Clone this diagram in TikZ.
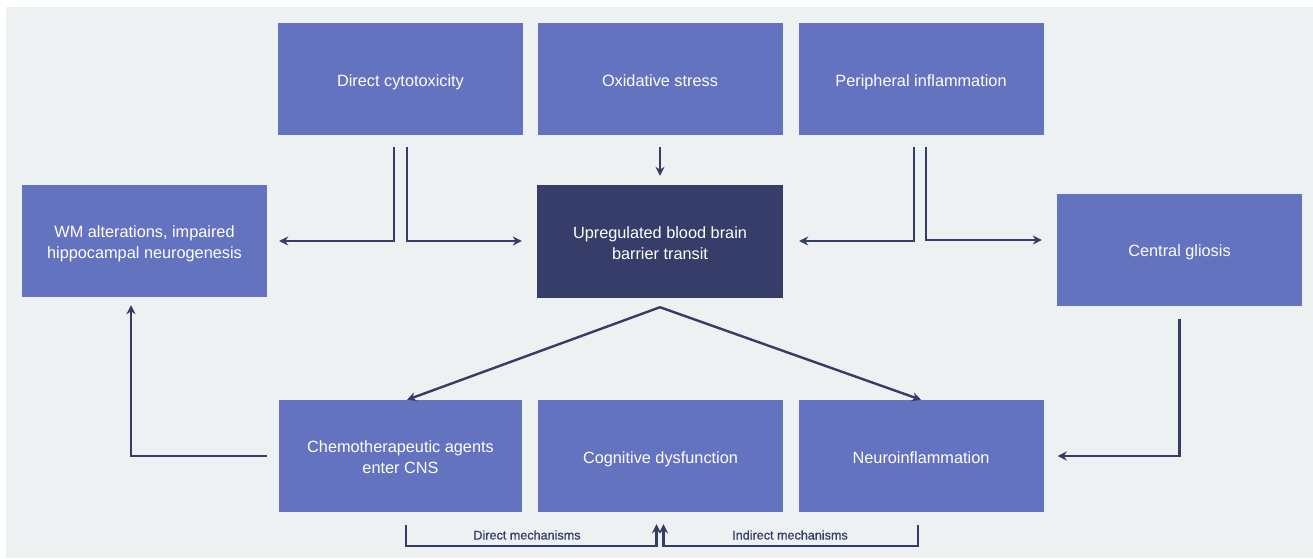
\documentclass[tikz,border=0pt]{standalone}
\usepackage{fontspec}
\setmainfont{Liberation Sans}
\newfontfamily\labfont{Liberation Sans}[FakeBold=0.8]
\usetikzlibrary{arrows.meta,calc}
\definecolor{boxblue}{HTML}{6473C0}
\definecolor{boxdark}{HTML}{363D69}
\definecolor{linec}{HTML}{353C66}
\definecolor{bgc}{HTML}{EEF1F1}
\newcommand\dn[1]{\raisebox{-3pt}[\height][\depth]{\begin{tabular}{@{}c@{}}#1\end{tabular}}}
\tikzset{
  boxn/.style={draw=none,fill=boxblue,text=white,minimum width=245pt,minimum height=112pt,
    inner sep=0pt,align=center,font=\fontsize{16.3}{21}\selectfont},
  darkn/.style={boxn,fill=boxdark},
  conn/.style={draw=linec,line width=2.4pt},
  arr/.style={conn,-{Stealth[length=9pt,width=9pt]}},
  lab/.style={text=linec,font=\labfont\fontsize{12.6}{15}\selectfont,inner sep=0pt}
}
\begin{document}
\begin{tikzpicture}[x=1pt,y=-1pt]
\useasboundingbox (0,0) rectangle (1313,558);
\fill[bgc] (6,7) rectangle (1313,558);
\node[boxn] (dc) at (400.5,79) {\dn{Direct cytotoxicity}};
\node[boxn] (os) at (660,79) {\dn{Oxidative stress}};
\node[boxn] (pi) at (921,79) {\dn{Peripheral inflammation}};
\node[boxn] (wm) at (144.5,241) {\dn{WM alterations, impaired\\hippocampal neurogenesis}};
\node[darkn,minimum width=246pt,minimum height=113pt] (bbb) at (660,241.5) {\dn{Upregulated blood brain\\barrier transit}};
\node[boxn] (cg) at (1179.5,249.5) {\dn{Central gliosis}};
\node[boxn,minimum width=243pt] (ch) at (400.5,456) {\dn{Chemotherapeutic agents\\enter CNS}};
\node[boxn] (cd) at (660.5,456) {\dn{Cognitive dysfunction}};
\node[boxn] (ni) at (921,456) {\dn{Neuroinflammation}};
% top connectors
\draw[arr] ([xshift=-6.5pt,yshift=-12pt]dc.south) |- ([xshift=12pt]wm.east);
\draw[arr] ([xshift=6.5pt,yshift=-12pt]dc.south) |- ([xshift=-15pt,yshift=0.5pt]bbb.west);
\draw[arr] ([yshift=-12pt]os.south) -- ([yshift=9pt]bbb.north);
\draw[arr] ([xshift=-7pt,yshift=-12pt]pi.south) |- ([xshift=16pt,yshift=0.5pt]bbb.east);
\draw[arr] ([xshift=5pt,yshift=-12pt]pi.south) |- ([xshift=-15pt,yshift=9.5pt]cg.west);
% from BBB
\draw[arr] ([yshift=-9pt]bbb.south) -- ([xshift=6.5pt]ch.north);
\draw[arr] ([yshift=-9pt]bbb.south) -- (ni.north);
% side loops
\draw[arr] ([yshift=-13pt]cg.south) |- ([xshift=14pt]ni.east);
\draw[arr] ([xshift=-12pt]ch.west) -| ([xshift=-13.5pt,yshift=-8pt]wm.south);
% bottom mechanisms
\coordinate (dl) at ([xshift=5.5pt,yshift=-34pt]ch.south);
\coordinate (il) at ([xshift=-3pt,yshift=-34pt]ni.south);
\draw[arr] ([xshift=5.5pt,yshift=-13pt]ch.south) -- (dl) -| ([xshift=-4pt,yshift=-12pt]cd.south);
\draw[arr] ([xshift=-3pt,yshift=-13pt]ni.south) -- (il) -| ([xshift=3pt,yshift=-12pt]cd.south);
\node[lab] (dm) at (527,535) {Direct mechanisms};
\node[lab] (im) at (790,535) {Indirect mechanisms};
\end{tikzpicture}
\end{document}
